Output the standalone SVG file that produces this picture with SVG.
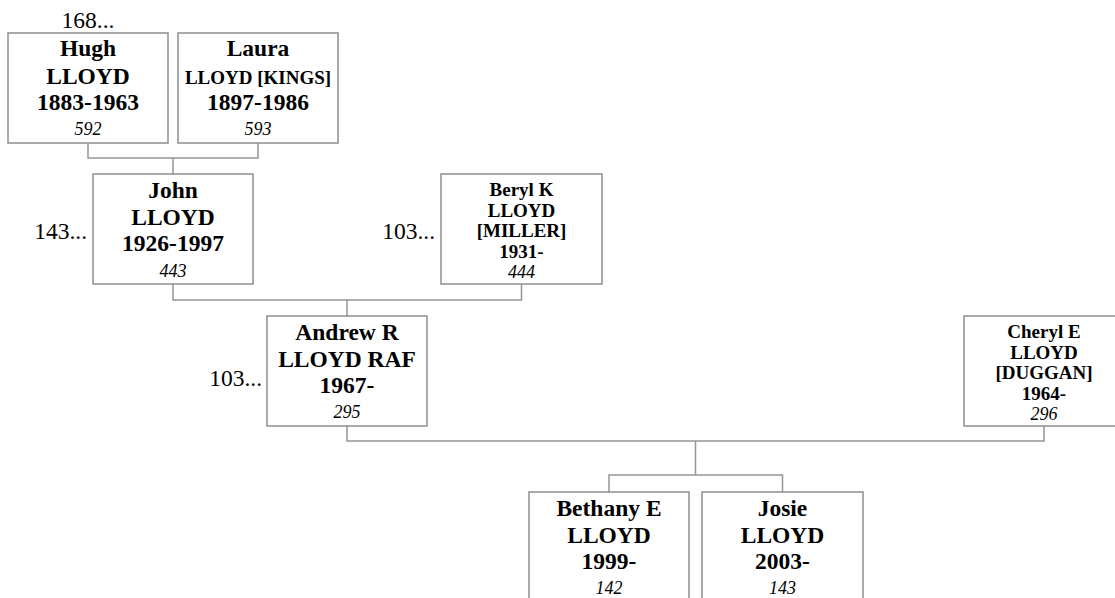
<svg xmlns="http://www.w3.org/2000/svg" width="1115" height="598" viewBox="0 0 1115 598">
<style>
.box{fill:#fff;stroke:#8f8f8f;stroke-width:1.5}
.ln{fill:none;stroke:#959595;stroke-width:1.5}
text{font-family:"Liberation Serif","Times New Roman",serif;fill:#000;text-anchor:middle}
.b{font-weight:bold;font-size:23.5px}
.s{font-weight:bold;font-size:19px}
.i{font-style:italic;font-size:18px}
.m{font-size:23.5px}
.r{text-anchor:end}
</style>
<g id="connectors">
<path class="ln" d="M88,143V158H258V143M173,158V174"/>
<path class="ln" d="M173,284V300H521.5V284M347,300V316"/>
<path class="ln" d="M347,426V441H1044V426M695.5,441V475M609,492V475H782.5V492"/>
</g>
<g id="n592">
<rect class="box" x="8" y="33" width="160" height="110"/>
<text class="m" x="88" y="28">168...</text>
<text class="b" x="88" y="56">Hugh</text>
<text class="b" x="88" y="84">LLOYD</text>
<text class="b" x="88" y="110">1883-1963</text>
<text class="i" x="88" y="135">592</text>
</g>
<g id="n593">
<rect class="box" x="178" y="33" width="160" height="110"/>
<text class="b" x="258" y="56">Laura</text>
<text class="s" x="258" y="84">LLOYD [KINGS]</text>
<text class="b" x="258" y="110">1897-1986</text>
<text class="i" x="258" y="135">593</text>
</g>
<g id="n443">
<rect class="box" x="93" y="174" width="160" height="110"/>
<text class="m r" x="87" y="239">143...</text>
<text class="b" x="173" y="198">John</text>
<text class="b" x="173" y="225">LLOYD</text>
<text class="b" x="173" y="251">1926-1997</text>
<text class="i" x="173" y="277">443</text>
</g>
<g id="n444">
<rect class="box" x="441" y="174" width="161" height="110"/>
<text class="m r" x="435" y="239">103...</text>
<text class="s" x="521.5" y="196">Beryl K</text>
<text class="s" x="521.5" y="216.5">LLOYD</text>
<text class="s" x="521.5" y="237">[MILLER]</text>
<text class="s" x="521.5" y="257.5">1931-</text>
<text class="i" x="521.5" y="278">444</text>
</g>
<g id="n295">
<rect class="box" x="267" y="316" width="160" height="110"/>
<text class="m r" x="262" y="386">103...</text>
<text class="b" x="347" y="340">Andrew R</text>
<text class="b" x="347" y="367">LLOYD RAF</text>
<text class="b" x="347" y="393">1967-</text>
<text class="i" x="347" y="418">295</text>
</g>
<g id="n296">
<rect class="box" x="964" y="316" width="160" height="110"/>
<text class="s" x="1044" y="338">Cheryl E</text>
<text class="s" x="1044" y="358.5">LLOYD</text>
<text class="s" x="1044" y="379">[DUGGAN]</text>
<text class="s" x="1044" y="399.5">1964-</text>
<text class="i" x="1044" y="420">296</text>
</g>
<g id="n142">
<rect class="box" x="529" y="492" width="160" height="110"/>
<text class="b" x="609" y="516">Bethany E</text>
<text class="b" x="609" y="543">LLOYD</text>
<text class="b" x="609" y="569">1999-</text>
<text class="i" x="609" y="594">142</text>
</g>
<g id="n143">
<rect class="box" x="702" y="492" width="161" height="110"/>
<text class="b" x="782.5" y="516">Josie</text>
<text class="b" x="782.5" y="543">LLOYD</text>
<text class="b" x="782.5" y="569">2003-</text>
<text class="i" x="782.5" y="594">143</text>
</g>
</svg>
